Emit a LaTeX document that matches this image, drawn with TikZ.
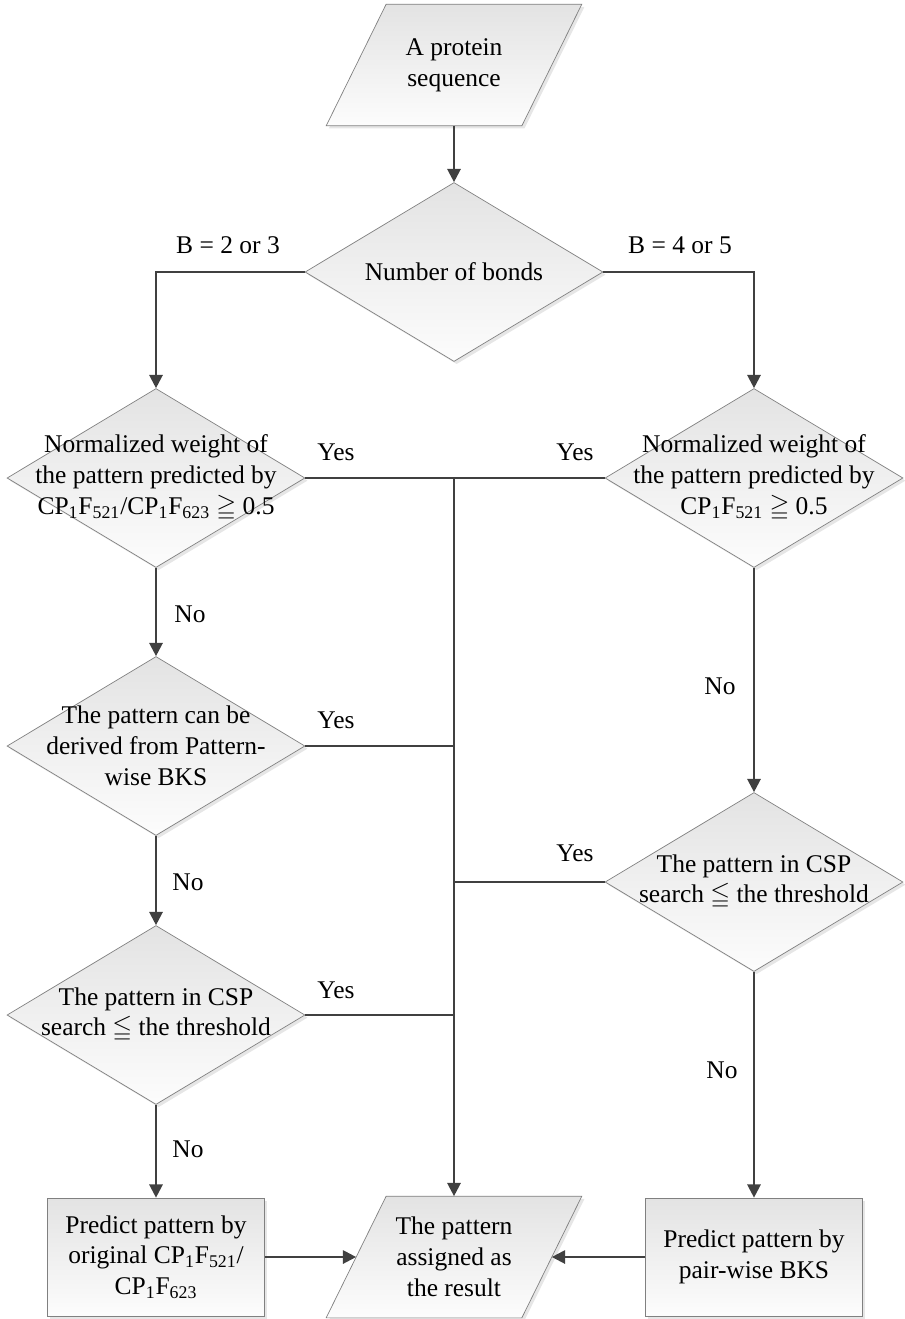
\documentclass[tikz,border=0pt]{standalone}
\usepackage{amssymb}
\usepackage{fontspec}
\setmainfont{Liberation Serif}
\usetikzlibrary{shapes.geometric,arrows.meta,positioning,shadows,backgrounds}

\begin{document}
\begin{tikzpicture}[x=0.02cm, y=-0.02cm, >={Triangle[length=7.5pt,width=7.5pt]},
    shapebase/.style={draw=black!50, line width=0.4pt, top color=black!11, bottom color=black!1, drop shadow={shadow xshift=1.5pt, shadow yshift=-1.5pt, opacity=0.2}},
    io/.style={rectangle, minimum width=3.9cm, minimum height=2.42cm, inner sep=0pt},
    decision/.style={shapebase, diamond, minimum width=5.96cm, minimum height=3.58cm, inner sep=0pt},
    process/.style={shapebase, rectangle, minimum width=4.34cm, minimum height=2.36cm},
    txt/.style={font=\fontsize{14.5}{17.5}\selectfont, align=center},
    line/.style={draw=black!75, line width=1.25pt},
    arrow/.style={line, ->}]

    \useasboundingbox (0,0) rectangle (904,1319);

    % shapes
    \node [io, txt] (seq) at (454,65) {A protein\\sequence};
    \node [decision] (bonds) at (454,272) {};
    \node [decision] (lw1) at (156,478) {};
    \node [decision] (rw1) at (754,478) {};
    \node [decision] (lpat) at (156,746) {};
    \node [decision] (rcsp) at (754,882) {};
    \node [decision] (lcsp) at (156,1015) {};
    \node [process, txt] (lpred) at (156,1257) {Predict pattern by\\original CP\textsubscript{1}F\textsubscript{521}/\\CP\textsubscript{1}F\textsubscript{623}};
    \node [io, txt] (res) at (454,1257) {The pattern\\assigned as\\the result};
    \node [process, txt] (rpred) at (754,1257) {Predict pattern by\\pair-wise BKS};

    % slanted outlines of the two io boxes
    \begin{scope}[on background layer]
        \path [shapebase] ([xshift=-0.6cm]seq.south west) -- ([xshift=-0.6cm]seq.south east)
            -- ([xshift=0.6cm]seq.north east) -- ([xshift=0.6cm]seq.north west) -- cycle;
        \path [shapebase] ([xshift=-0.6cm]res.south west) -- ([xshift=-0.6cm]res.south east)
            -- ([xshift=0.6cm]res.north east) -- ([xshift=0.6cm]res.north west) -- cycle;
    \end{scope}

    % texts in the diamonds
    \node [txt] (bonds-t) at (bonds) {Number of bonds};
    \node [txt] (lw1-t) at (lw1) {Normalized weight of\\the pattern predicted by\\CP\textsubscript{1}F\textsubscript{521}/CP\textsubscript{1}F\textsubscript{623} $\geqq$ 0.5};
    \node [txt] (rw1-t) at (rw1) {Normalized weight of\\the pattern predicted by\\CP\textsubscript{1}F\textsubscript{521} $\geqq$ 0.5};
    \node [txt] (lpat-t) at (lpat) {The pattern can be\\derived from Pattern-\\wise BKS};
    \node [txt] (lcsp-t) at (lcsp) {The pattern in CSP\\search $\leqq$ the threshold};
    \node [txt] (rcsp-t) at (rcsp) {The pattern in CSP\\search $\leqq$ the threshold};

    % branch labels
    \node [txt] (b23) at (228,245) {B = 2 or 3};
    \node [txt] (b45) at (680,245) {B = 4 or 5};
    \node [txt] (yes1) at (336,452) {Yes};
    \node [txt] (yes2) at (575,452) {Yes};
    \node [txt] (yes3) at (336,720) {Yes};
    \node [txt] (yes4) at (575,853) {Yes};
    \node [txt] (yes5) at (336,990) {Yes};
    \node [txt] (no1) at (190,614) {No};
    \node [txt] (no2) at (720,686) {No};
    \node [txt] (no3) at (188,882) {No};
    \node [txt] (no4) at (722,1070) {No};
    \node [txt] (no5) at (188,1149) {No};

    \coordinate (spine) at (lw1.east -| res.center);

    % connectors
    \draw [arrow] (seq) -- (bonds);
    \draw [arrow] (bonds.west) -| (lw1.north);
    \draw [arrow] (bonds.east) -| (rw1.north);
    \draw [arrow] (lw1) -- (lpat);
    \draw [arrow] (lpat) -- (lcsp);
    \draw [arrow] (lcsp) -- (lpred);
    \draw [arrow] (rw1) -- (rcsp);
    \draw [arrow] (rcsp) -- (rpred);
    \draw [line] (lw1.east) -- (spine);
    \draw [line] (rw1.west) -- (spine);
    \draw [line] (lpat.east) -- (lpat.east -| spine);
    \draw [line] (lcsp.east) -- (lcsp.east -| spine);
    \draw [line] (rcsp.west) -- (rcsp.west -| spine);
    \draw [arrow] (spine) -- (spine |- res.north);
    \draw [arrow] (lpred.east) -- (res.west);
    \draw [arrow] (rpred.west) -- (res.east);
\end{tikzpicture}
\end{document}
